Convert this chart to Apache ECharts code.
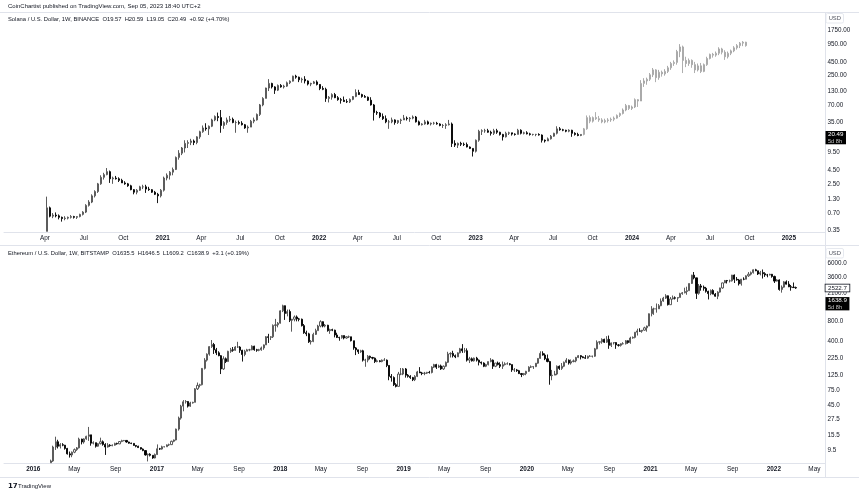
<!DOCTYPE html>
<html><head><meta charset="utf-8">
<script src="https://cdn.jsdelivr.net/npm/echarts@6/dist/echarts.min.js"></script>
<style>html,body{margin:0;padding:0;background:#fff}#c{width:859px;height:493px}</style>
</head><body><div id="c"></div>
<script>
// ---------- DATA (weekly bars: [high, low, close]; open = previous close) ----------
const solStart = '2020-04-06';
const solFirstOpen = 0.33;
const sol2020 = [[1.45,0.33,0.90],[0.95,0.60,0.63],[0.72,0.58,0.66],[0.74,0.60,0.64],[0.68,0.55,0.60],[0.62,0.50,0.57],[0.63,0.53,0.58],[0.62,0.55,0.60],[0.66,0.57,0.62],[0.64,0.57,0.60],[0.63,0.56,0.62],[0.70,0.60,0.68],[0.78,0.65,0.75],[1.05,0.72,1.0],[1.25,0.95,1.15],[1.6,1.1,1.5],[1.9,1.4,1.8],[2.6,1.7,2.5],[3.6,2.4,3.3],[4.0,3.0,3.7],[4.9,3.6,4.2],[4.4,2.6,3.1],[3.4,2.5,3.2],[3.5,3.0,3.1],[3.3,2.7,2.9],[3.1,2.6,2.6],[2.8,2.4,2.5],[2.6,2.2,2.3],[2.4,1.9,1.95],[2.0,1.6,1.75],[2.0,1.6,1.9],[2.3,1.85,2.2],[2.4,2.0,2.2],[2.4,1.7,2.0],[2.2,1.85,1.95],[2.0,1.7,1.75],[1.85,1.55,1.6],[1.7,1.1,1.5],[2.0,1.4,1.9]];
const sol2021 = [[3.4,1.8,3.2],[3.9,2.9,3.6],[4.3,3.0,4.1],[5.0,3.6,4.6],[8.0,4.5,7.7],[10.5,7.0,9.2],[12,8.5,11.5],[16,9.5,14],[16,11.5,14.5],[17,13,15.5],[16.5,13,14.5],[19,13.5,18.5],[24,17,23],[30,22,27],[33,24,26],[30,20,29],[40,28,38],[46,36,44],[52,36,42],[58,22,30],[36,26,34],[42,31,38],[45,35,39],[42,33,34],[37,22,34],[37,31,33],[36,30,31],[32,26,27],[30,22,28],[38,28,36],[42,33,38],[50,37,48],[75,45,72],[100,68,95],[150,95,148],[216,130,180],[185,145,155],[160,115,135],[172,130,165],[175,150,155],[170,145,160],[195,155,185],[205,175,198],[250,195,245],[260,220,235],[240,190,210],[230,185,215],[245,180,200],[205,165,175],[185,160,180],[200,175,192],[205,165,172]];
const sol2022 = [[175,135,145],[160,135,140],[150,82,95],[105,80,100],[118,90,112],[120,96,98],[105,86,90],[97,76,88],[103,82,83],[92,78,82],[95,78,91],[105,88,103],[140,100,122],[137,110,112],[116,98,103],[110,98,100],[103,85,88],[100,70,72],[75,37,52],[56,47,51],[53,41,44],[50,38,40],[46,33,35],[38,26,35],[42,33,38],[39,31,34],[38,32,37],[40,32,38],[47,38,41],[44,37,40],[43,35,41],[46,39,43],[45,34,35],[37,30,31],[33,30,32],[38,31,35],[37,31,32],[34,30,33],[35,31,33],[35,31,32],[33,29,30],[32,27,30],[33,26,31],[38,30,32],[34,12,14],[16,12,13],[14.5,11.5,14],[15,12.5,13.5],[14.5,12.5,13.3],[14.5,11.8,12],[12.3,11,11.3],[11.4,8,10]];
const sol2023 = [[16.5,9.5,16],[25,15,23.5],[25.5,20,24],[26,22,24],[26,22,22.5],[24,19.5,21.5],[26,20,24],[26,21,22.5],[23,19.5,20.5],[21,15.8,18.5],[23,18,21.5],[23,20,22],[22,19.5,20.8],[21.5,19.5,20.5],[26,20.5,24.5],[25.5,20.5,21.5],[23,20.5,22],[23.5,20.5,21],[22,19.5,20.5],[21,19.5,20.5],[21,19,20.5],[21.5,19.5,20],[20.5,14.5,16],[16.5,14.5,15.5],[18,15.5,17],[20,16.5,19],[22,18.5,21.5],[29,20.5,26],[28,24,25],[26,23.5,24.5],[25,22.5,23.5],[25.5,22.5,24.5],[25,18.5,21.5],[22.5,19.5,20.5],[22,19,19.57],[20.59,19.05,20.49]];
// projected fractal (grey bars), starting the week after the last SOL bar
const projStart = '2023-09-11';
const projFirstOpen = 20.49;
const solProjection = [[27,19.7,26],[46,25,42],[46,33,36],[44,34,42],[53,38,40],[45,35,38],[41,33,35],[40,33,37],[41,34,38],[42,35,39],[44,36,41],[48,40,46],[52,43,50],[62,48,58],[75,55,70],[72,58,62],[70,58,66],[95,63,90],[92,66,85],[207,85,180],[225,155,200],[230,170,215],[280,200,260],[347,236,320],[330,190,230],[320,210,290],[310,240,270],[330,250,300],[380,280,350],[450,320,420],[480,380,440],[750,400,700],[960,550,850],[900,280,480],[560,360,420],[520,380,480],[500,350,400],[450,280,320],[420,300,380],[430,280,300],[420,290,400],[560,380,520],[640,500,620],[660,540,600],[700,560,650],[840,600,780],[820,620,680],[740,490,560],[700,520,650],[760,600,720],[880,680,820],[960,760,900],[1050,810,1000],[1090,880,1040],[1060,860,900]];

const ethStart = '2016-02-22';
const ethFirstOpen = 6.1;
const eth2016 = [[6.8,6.1,6.5],[11,6.3,10.5],[15,9.5,12.6],[13.5,10,10.8],[12,10,11.4],[12,10.8,11.2],[11.3,9.6,10.0],[10.2,8.1,8.3],[9.0,7.3,8.0],[9.0,7.4,8.8],[10,8.5,9.6],[10.5,9.2,10.2],[14.5,10,13.8],[14,11.5,12.5],[14.2,11.8,13.9],[15.5,13.5,15.2],[21,13,16],[16,11,12],[12.8,11.5,12.2],[12.2,10.3,10.8],[12.0,10.6,11.8],[14.5,11.5,12.6],[13.2,11,11.5],[12,8,10.5],[12,10.3,11.2],[11.6,10.6,11.0],[11.5,10.8,11.2],[12.2,11,11.9],[12.2,11.4,11.7],[12.9,11.6,12.7],[13.5,12.4,13.1],[13.4,12.8,13.2],[13.3,12.2,12.5],[12.6,11.8,12.0],[12.2,11.6,11.9],[12.0,11.0,11.1],[11.2,10.4,10.8],[11.0,10.2,10.3],[10.4,9.6,9.8],[10.0,9.1,9.3],[9.4,7.8,8.0],[8.4,6.4,8.2],[8.5,7.6,7.9],[7.9,7.0,7.2],[8.4,7.1,8.1]];
const eth2017 = [[11.5,8.0,9.9],[10.2,9.5,9.8],[11,9.6,10.6],[10.7,10.4,10.6],[11.5,10.6,11.3],[11.8,10.9,11.4],[13.1,11.3,12.8],[13.6,12.4,13.4],[19.8,13.2,19.5],[30,18.5,28.5],[45,27,43],[53,36,50],[53,47,50.5],[51,41,43],[50,42,48],[50,47,49],[80,49,78],[97,75,88],[93,82,90],[160,88,158],[225,152,210],[265,200,258],[340,245,335],[420,320,360],[380,260,300],[320,250,270],[285,240,245],[250,130,155],[240,150,220],[230,190,200],[290,200,285],[320,270,300],[330,280,295],[340,290,330],[395,320,330],[340,270,295],[300,200,255],[300,240,285],[310,285,300],[310,285,300],[350,295,340],[345,290,300],[310,280,295],[310,285,300],[335,290,320],[360,300,355],[480,355,470],[520,380,460],[480,420,470],[720,450,695],[870,560,710],[780,650,750]];
const eth2018 = [[1170,740,1150],[1420,1100,1370],[1380,840,1050],[1200,950,1120],[1200,780,830],[870,560,860],[980,800,930],[980,800,870],[900,800,860],[880,670,690],[730,520,540],[580,480,520],[540,380,395],[420,360,400],[540,390,510],[620,500,580],[710,580,680],[830,650,790],[800,650,680],[730,650,700],[710,560,580],[620,520,600],[620,570,590],[600,460,500],[540,450,460],[470,410,455],[500,440,490],[490,430,450],[480,440,470],[490,450,470],[470,400,410],[410,300,320],[330,250,300],[300,260,280],[300,270,290],[300,200,210],[220,167,210],[250,195,240],[245,215,230],[235,215,225],[230,190,200],[215,195,205],[210,195,200],[215,195,210],[225,205,210],[215,165,175],[175,105,120],[130,100,115],[120,86,90],[95,82,85],[140,85,130],[160,125,130],[160,125,155]];
const eth2019 = [[160,115,125],[130,115,120],[125,110,115],[118,102,107],[125,102,120],[145,117,140],[165,135,135],[140,125,133],[140,125,134],[140,130,138],[145,132,137],[170,133,165],[185,160,180],[185,155,165],[180,160,172],[180,150,155],[175,150,170],[200,165,195],[280,190,260],[275,230,265],[290,230,245],[255,225,235],[275,235,270],[320,265,310],[365,270,290],[320,270,290],[315,200,210],[235,190,220],[230,200,205],[230,200,225],[235,200,210],[215,175,195],[200,180,190],[195,165,170],[185,165,180],[200,175,200],[225,195,210],[215,155,170],[190,165,190],[200,175,180],[195,160,170],[200,155,180],[195,175,185],[195,180,185],[190,175,180],[180,140,150],[160,140,150],[155,140,146],[150,130,132],[135,117,128],[135,123,132],[145,125,143]];
const eth2020 = [[170,140,165],[175,160,167],[170,155,168],[190,165,189],[225,185,223],[285,220,265],[285,245,250],[265,210,220],[255,195,200],[205,90,123],[150,105,125],[145,125,130],[175,125,170],[175,150,158],[190,150,170],[200,165,195],[225,190,210],[215,180,190],[215,180,200],[215,195,205],[235,195,230],[250,225,245],[250,215,235],[240,225,228],[250,220,225],[245,220,240],[250,235,240],[245,230,240],[320,235,310],[415,305,390],[400,360,395],[445,370,430],[440,380,390],[480,380,430],[490,310,350],[385,330,380],[390,360,385],[390,310,355],[365,335,350],[375,335,370],[390,360,370],[420,360,410],[415,370,385],[470,370,450],[475,440,460],[550,445,550],[620,490,575],[630,560,570],[590,540,590],[665,580,640],[690,560,680],[1050,680,1040]];
const eth2021 = [[1350,950,1230],[1280,1000,1230],[1480,1080,1230],[1450,1230,1370],[1760,1350,1610],[1860,1570,1780],[2040,1730,1930],[1950,1380,1420],[1850,1420,1730],[1950,1700,1800],[1890,1700,1780],[1830,1560,1820],[2140,1820,2080],[2200,2000,2140],[2550,2100,2240],[2640,2000,2300],[2960,2300,2950],[3980,2900,3930],[4380,3400,3580],[3580,1730,2100],[2900,2000,2710],[2900,2300,2600],[2750,2300,2500],[2620,2150,2250],[2300,1700,2080],[2400,1970,2320],[2420,2040,2040],[2120,1870,1900],[2260,1720,2190],[2550,2150,2530],[3030,2460,3010],[3330,3000,3270],[3330,2950,3230],[3370,3050,3230],[3970,3150,3940],[4030,3000,3410],[3680,3250,3330],[3450,2750,2920],[3450,2740,3420],[3650,3300,3410],[3900,3400,3840],[4370,3700,4060],[4460,3890,4290],[4800,4150,4730],[4890,4510,4570],[4570,3950,4090],[4550,3900,4290],[4780,3500,4130],[4350,3700,3960],[4100,3650,3950],[4120,3900,4050],[4100,3600,3760]];
const eth2022 = [[3860,3000,3200],[3420,3150,3330],[3400,2300,2400],[2760,2150,2600],[3200,2550,3120],[3280,2850,2880],[3200,2600,2630],[2800,2300,2600],[3050,2550,2560],[2650,2450,2522.7]];

// axis tick labels
const solYTicks = [1750, 950, 450, 250, 130, 70, 35, 9.5, 4.5, 2.5, 1.3, 0.7, 0.35];
const ethYTicks = [6000, 3600, 2100, 800, 400, 225, 125, 75, 45, 27.5, 15.5, 9.5];
const solXTicks = ['2020-04-01','2020-07-01','2020-10-01','2021-01-01','2021-04-01','2021-07-01','2021-10-01','2022-01-01','2022-04-01','2022-07-01','2022-10-01','2023-01-01','2023-04-01','2023-07-01','2023-10-01','2024-01-01','2024-04-01','2024-07-01','2024-10-01','2025-01-01'];
const ethXTicks = ['2016-01-01','2016-05-01','2016-09-01','2017-01-01','2017-05-01','2017-09-01','2018-01-01','2018-05-01','2018-09-01','2019-01-01','2019-05-01','2019-09-01','2020-01-01','2020-05-01','2020-09-01','2021-01-01','2021-05-01','2021-09-01','2022-01-01','2022-05-01'];
const solLast = 20.49, ethLast = 1638.9, ethLastVisible = 2522.7;

// ---------- BUILD ----------
const DAY = 864e5;
function buildCandles(startISO, firstOpen, rows) {
  const t0 = Date.parse(startISO);
  let open = firstOpen;
  return rows.map((r, i) => { const it = [t0 + i * 7 * DAY, open, r[2], r[1], r[0]]; open = r[2]; return it; });
}
const solCandles = buildCandles(solStart, solFirstOpen, [].concat(sol2020, sol2021, sol2022, sol2023));
const projCandles = buildCandles(projStart, projFirstOpen, solProjection);
const ethCandles = buildCandles(ethStart, ethFirstOpen, [].concat(eth2016, eth2017, eth2018, eth2019, eth2020, eth2021, eth2022));

// layout calibration
const L = 4, R = 825;
const solPxDay = 3 / 7, solRef = Date.parse('2020-04-06'), solRefX = 47;
const solXMin = solRef - (solRefX - L) / solPxDay * DAY, solXMax = solRef + (R - solRefX) / solPxDay * DAY;
const ethPxDay = 123.4 / 365.25, ethRef = Date.parse('2016-01-01'), ethRefX = 33.3;
const ethXMin = ethRef - (ethRefX - L) / ethPxDay * DAY, ethXMax = ethRef + (R - ethRefX) / ethPxDay * DAY;
const solYMin = 1750 * Math.pow(10, -(232 - 30) / 54.07), solYMax = 1750 * Math.pow(10, (30 - 13) / 54.07);
const ethYMin = 3600 * Math.pow(10, -(463 - 277.7) / 66.8), ethYMax = 3600 * Math.pow(10, (277.7 - 246) / 66.8);

const FONT = '"Liberation Sans", Arial, sans-serif';
const TXT = '#131722', LINE = '#e0e3eb';
const MON = ['Jan','Feb','Mar','Apr','May','Jun','Jul','Aug','Sep','Oct','Nov','Dec'];
function fmtTime(v) { const d = new Date(Number(v)); return d.getUTCMonth() === 0 ? '{y|' + d.getUTCFullYear() + '}' : MON[d.getUTCMonth()]; }

function xAxis(idx, min, max, ticks) {
  return { type: 'value', gridIndex: idx, min: min, max: max, scale: true,
    axisLine: { show: true, onZero: false, lineStyle: { color: LINE, width: 1 } },
    axisTick: { show: false }, splitLine: { show: false },
    axisLabel: { customValues: ticks.map(s => Date.parse(s)), formatter: fmtTime, fontSize: 6.4, fontFamily: FONT, color: TXT, margin: 3.5, hideOverlap: false, showMinLabel: true, showMaxLabel: true,
      rich: { y: { fontWeight: 'bold', fontSize: 6.4, fontFamily: FONT, color: TXT } } } };
}
function yAxis(idx, min, max, ticks, dec) {
  return { type: 'log', logBase: 10, gridIndex: idx, position: 'right', min: min, max: max,
    axisLine: { show: true, lineStyle: { color: LINE, width: 1 } },
    axisTick: { show: false }, splitLine: { show: false },
    axisLabel: { customValues: ticks, formatter: v => Number(v).toFixed(dec), fontSize: 6.3, fontFamily: FONT, color: TXT, margin: 2.5, showMinLabel: true, showMaxLabel: true, hideOverlap: false } };
}
const candleStyle = { color: '#ffffff', color0: '#000000', borderColor: '#4a4a4a', borderColor0: '#000000', borderColorDoji: '#4a4a4a', borderWidth: 0.9 };
function tag(value, text, dark) {
  return { yAxis: value, label: { show: true, position: 'end', distance: 0.5, formatter: text, offset: dark ? [0, 3.2] : [0, 0],
    backgroundColor: dark ? '#000' : '#fff', borderColor: dark ? '#000' : TXT, borderWidth: dark ? 0 : 0.8,
    color: dark ? '#fff' : TXT, fontSize: 6.2, fontFamily: FONT, lineHeight: 6.4, padding: [0.5, 2.5, 0, 2.5],
    rich: { s: { color: '#c8c8c8', fontSize: 5.6, fontFamily: FONT, lineHeight: 6.4 } } } };
}
function hline(y) { return { type: 'line', shape: { x1: 0, y1: y, x2: 859, y2: y }, style: { stroke: LINE, lineWidth: 1 }, silent: true }; }
function vline(x, y1, y2) { return { type: 'line', shape: { x1: x, y1: y1, x2: x, y2: y2 }, style: { stroke: LINE, lineWidth: 1 }, silent: true }; }
function text(x, y, t, size, extra) { return { type: 'text', x: x, y: y, silent: true, style: Object.assign({ text: t, fontSize: size, fontFamily: FONT, fill: TXT, verticalAlign: 'middle' }, extra || {}) }; }
function usdBox(y) { return [{ type: 'rect', shape: { x: 826, y: y, width: 17.5, height: 9.5, r: 1.5 }, style: { fill: '#fff', stroke: LINE, lineWidth: 0.8 }, z: 100, silent: true },
  { type: 'text', x: 834.75, y: y + 5, z: 101, silent: true, style: { text: 'USD', fontSize: 5.8, fontFamily: FONT, fill: '#50535e', align: 'center', verticalAlign: 'middle' } }]; }

const chart = echarts.init(document.getElementById('c'), null, { renderer: 'canvas' });
chart.setOption({
  animation: false,
  backgroundColor: '#ffffff',
  grid: [
    { left: L, right: 859 - R, top: 13, height: 219 },
    { left: L, right: 859 - R, top: 246, height: 217 }
  ],
  xAxis: [xAxis(0, solXMin, solXMax, solXTicks), xAxis(1, ethXMin, ethXMax, ethXTicks)],
  yAxis: [yAxis(0, solYMin, solYMax, solYTicks, 2), yAxis(1, ethYMin, ethYMax, ethYTicks, 1)],
  series: [
    { name: 'SOLUSD', type: 'candlestick', xAxisIndex: 0, yAxisIndex: 0, data: solCandles, barWidth: 2, itemStyle: candleStyle,
      markLine: { silent: true, symbol: 'none', animation: false, lineStyle: { color: 'rgba(0,0,0,0)', width: 0 },
        data: [tag(solLast, '20.49\n{s|5d 8h}', true)] } },
    { name: 'Projection', type: 'candlestick', xAxisIndex: 0, yAxisIndex: 0, data: projCandles, barWidth: 2,
      itemStyle: { color: '#ffffff', color0: '#a6a6a6', borderColor: '#a0a0a0', borderColor0: '#a6a6a6', borderColorDoji: '#a0a0a0', borderWidth: 0.9 } },
    { name: 'ETHUSD', type: 'candlestick', xAxisIndex: 1, yAxisIndex: 1, data: ethCandles, barWidth: 1.6, itemStyle: candleStyle,
      markLine: { silent: true, symbol: 'none', animation: false, lineStyle: { color: 'rgba(0,0,0,0)', width: 0 },
        data: [tag(ethLastVisible, '2522.7', false), tag(ethLast, '1638.9\n{s|5d 8h}', true)] } }
  ],
  graphic: [
    hline(12.5), hline(245.5), hline(477.5),
    vline(825.5, 12.5, 245.5), vline(825.5, 245.5, 477.5),
    text(8, 6, 'CoinChartist published on TradingView.com, Sep 05, 2023 18:40 UTC+2', 6),
    text(8, 19.5, 'Solana / U.S. Dollar, 1W, BINANCE  O19.57  H20.59  L19.05  C20.49  +0.92 (+4.70%)', 5.8),
    text(8, 253.5, 'Ethereum / U.S. Dollar, 1W, BITSTAMP  O1635.5  H1646.5  L1609.2  C1638.9  +3.1 (+0.19%)', 5.8),
    ...usdBox(13.5), ...usdBox(248.5),
    text(8, 486.5, '17', 7, { fontWeight: 'bold', fontFamily: 'DejaVu Sans', fill: '#131722' }),
    text(18, 486.5, 'TradingView', 6)
  ]
});
</script></body></html>
